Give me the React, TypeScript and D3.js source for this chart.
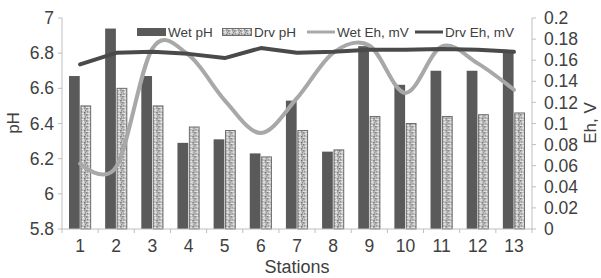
import * as d3 from "d3";

const stations = ["1", "2", "3", "4", "5", "6", "7", "8", "9", "10", "11", "12", "13"];
const wetPH = [6.67, 6.94, 6.67, 6.29, 6.31, 6.23, 6.53, 6.24, 6.84, 6.62, 6.7, 6.7, 6.81];
const dryPH = [6.5, 6.6, 6.5, 6.38, 6.36, 6.21, 6.36, 6.25, 6.44, 6.4, 6.44, 6.45, 6.46];
const wetEh = [0.062, 0.059, 0.171, 0.165, 0.122, 0.091, 0.124, 0.167, 0.174, 0.129, 0.173, 0.157, 0.132];
const dryEh = [0.156, 0.167, 0.168, 0.166, 0.162, 0.1715, 0.167, 0.168, 0.17, 0.17, 0.1705, 0.17, 0.168];
const phTicks = [5.8, 6, 6.2, 6.4, 6.6, 6.8, 7];
const ehTicks = [0, 0.02, 0.04, 0.06, 0.08, 0.1, 0.12, 0.14, 0.16, 0.18, 0.2];

const W = 601;
const H = 278;
const margin = { top: 18, right: 69, bottom: 49, left: 62 };
const FONT = "'Liberation Sans', Arial, sans-serif";
const AXIS = "#bfbfbf";
const TEXT = "#404040";
const WET_BAR = "#5a5a5a";
const WET_LINE = "#a8a8a8";
const DRY_LINE = "#4a4a4a";

// fixed speckle texture for the dry pH bars
const speckle: [number, number, string][] = [
  [0, 0, "#7a7a7a"], [3, 1, "#efefef"], [1, 3, "#8c8c8c"], [4, 4, "#707070"],
  [2, 5, "#f2f2f2"], [5, 2, "#888888"], [0, 5, "#e6e6e6"], [4, 0, "#9a9a9a"],
  [2, 2, "#e0e0e0"],
];

export default function App() {
  const innerW = W - margin.left - margin.right;
  const innerH = H - margin.top - margin.bottom;

  const x = d3.scaleBand<string>().domain(stations).range([0, innerW]).padding(0);
  const sub = d3
    .scaleBand<string>()
    .domain(["wet", "dry"])
    .range([7, x.bandwidth() - 7])
    .paddingInner(0.06);
  const yL = d3.scaleLinear().domain([5.8, 7]).range([innerH, 0]);
  const yR = d3.scaleLinear().domain([0, 0.2]).range([innerH, 0]);

  const cx = (i: number) => (x(stations[i]) ?? 0) + x.bandwidth() / 2;
  const wetLine = d3
    .line<number>()
    .x((_, i) => cx(i))
    .y((d) => yR(d))
    .curve(d3.curveCardinal.tension(0));
  const dryLine = d3
    .line<number>()
    .x((_, i) => cx(i))
    .y((d) => yR(d));

  const fmt = (d: number) => String(+d.toFixed(2));

  return (
    <svg width={W} height={H} style={{ position: "absolute", left: 0, top: 0, background: "#fff" }} fontFamily={FONT}>
      <defs>
        <pattern id="speck" width={6} height={6} patternUnits="userSpaceOnUse">
          <rect width={6} height={6} fill="#c4c4c4" />
          {speckle.map(([px, py, c], k) => (
            <rect key={k} x={px} y={py} width={1.5} height={1.5} fill={c} />
          ))}
        </pattern>
      </defs>
      <g transform={`translate(${margin.left},${margin.top})`}>
        {/* bars */}
        {stations.map((s, i) => (
          <g key={s} transform={`translate(${x(s)},0)`}>
            <rect
              x={sub("wet")}
              y={yL(wetPH[i])}
              width={sub.bandwidth()}
              height={innerH - yL(wetPH[i])}
              fill={WET_BAR}
            />
            <rect
              x={(sub("dry") ?? 0) + 0.5}
              y={yL(dryPH[i])}
              width={sub.bandwidth() - 1}
              height={innerH - yL(dryPH[i])}
              fill="url(#speck)"
              stroke="#6e6e6e"
              strokeWidth={1}
            />
          </g>
        ))}

        {/* Eh lines */}
        <path d={wetLine(wetEh) ?? ""} fill="none" stroke={WET_LINE} strokeWidth={4} strokeLinecap="round" />
        <path d={dryLine(dryEh) ?? ""} fill="none" stroke={DRY_LINE} strokeWidth={4} strokeLinecap="round" strokeLinejoin="round" />

        {/* left axis */}
        <line x1={0} x2={0} y1={0} y2={innerH} stroke={AXIS} />
        {phTicks.map((t) => (
          <g key={t} transform={`translate(0,${yL(t)})`}>
            <line x1={-4} x2={0} stroke={AXIS} />
            <text x={-8} dy="0.35em" textAnchor="end" fontSize={17.5} fill={TEXT}>
              {fmt(t)}
            </text>
          </g>
        ))}

        {/* right axis */}
        <line x1={innerW} x2={innerW} y1={0} y2={innerH} stroke={AXIS} />
        {ehTicks.map((t) => (
          <g key={t} transform={`translate(${innerW},${yR(t)})`}>
            <line x1={0} x2={4} stroke={AXIS} />
            <text x={12} dy="0.35em" textAnchor="start" fontSize={17.5} fill={TEXT}>
              {fmt(t)}
            </text>
          </g>
        ))}

        {/* bottom axis */}
        <line x1={0} x2={innerW} y1={innerH} y2={innerH} stroke={AXIS} />
        {stations.map((s) => (
          <line key={"t" + s} x1={x(s)} x2={x(s)} y1={innerH} y2={innerH + 4} stroke={AXIS} />
        ))}
        <line x1={innerW} x2={innerW} y1={innerH} y2={innerH + 4} stroke={AXIS} />
        {stations.map((s, i) => (
          <text key={"l" + s} x={cx(i)} y={innerH + 23} textAnchor="middle" fontSize={17.5} fill={TEXT}>
            {s}
          </text>
        ))}
      </g>

      {/* axis titles */}
      <text x={margin.left + innerW / 2} y={273} textAnchor="middle" fontSize={18} fill={TEXT}>
        Stations
      </text>
      <text transform="translate(19,123) rotate(-90)" textAnchor="middle" fontSize={17} fill={TEXT}>
        pH
      </text>
      <text transform="translate(596,123) rotate(-90)" textAnchor="middle" fontSize={17} fill={TEXT}>
        Eh, V
      </text>

      {/* legend */}
      <g fontSize={13.5} fill={TEXT}>
        <rect x={137} y={28} width={29} height={8} fill={WET_BAR} />
        <text x={168} y={37}>Wet pH</text>
        <rect x={222.5} y={28.5} width={29} height={7} fill="url(#speck)" stroke="#6e6e6e" />
        <text x={254} y={37}>Drv pH</text>
        <line x1={307} x2={335} y1={32} y2={32} stroke={WET_LINE} strokeWidth={3} />
        <text x={337} y={37}>Wet Eh, mV</text>
        <line x1={415} x2={443} y1={32} y2={32} stroke={DRY_LINE} strokeWidth={3} />
        <text x={445} y={37}>Drv Eh, mV</text>
      </g>
    </svg>
  );
}
